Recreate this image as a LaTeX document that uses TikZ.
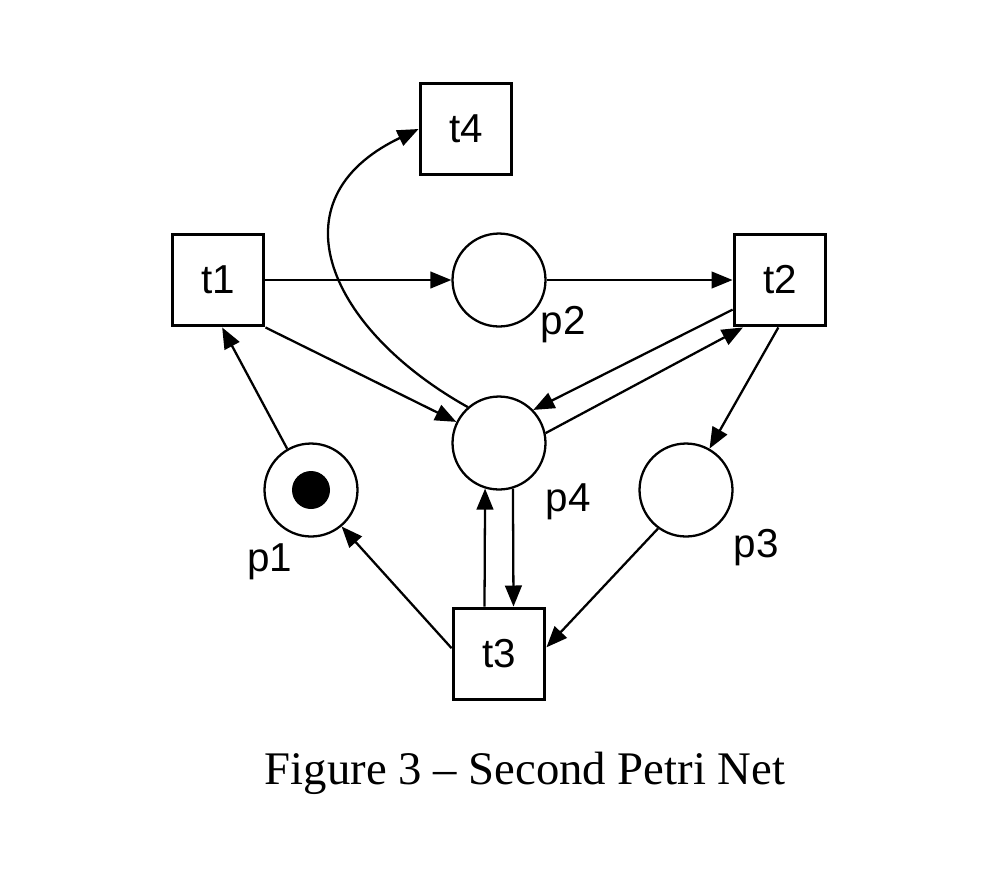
\documentclass[tikz,border=0pt]{standalone}
\usepackage{fontspec}
\setmainfont{Liberation Serif}
\newfontfamily\labelfont{Liberation Sans}
\usetikzlibrary{arrows.meta}
\begin{document}
\begin{tikzpicture}[x=0.02cm,y=-0.02cm,
  trans/.style={draw,line width=2.2pt,minimum size=1.82cm,inner sep=0pt,font=\labelfont\fontsize{23}{27}\selectfont},
  place/.style={draw,circle,line width=1.3pt,minimum size=1.86cm,inner sep=0pt},
  plabel/.style={font=\labelfont\fontsize{23}{27}\selectfont,inner sep=0pt},
  arc/.style={line width=1.3pt,-{Triangle[length=12pt,width=9.5pt]}}]
\useasboundingbox (0,0) rectangle (982,890);
\node[trans] (t4) at (466,129) {t4};
\node[trans] (t1) at (218,280) {t1};
\node[trans] (t2) at (780,280) {t2};
\node[trans] (t3) at (499,654) {t3};
\node[place] (p2) at (499,280) {};
\node[place] (p4) at (499,443) {};
\node[place] (p1) at (311,490) {};
\node[place] (p3) at (686,490) {};
\node[circle,fill=black,minimum size=0.76cm,inner sep=0pt] (tok) at (311,490) {};
\node[plabel] (lp2) at (563,325) {p2};
\node[plabel] (lp4) at (568,502) {p4};
\node[plabel] (lp1) at (270,562) {p1};
\node[plabel] (lp3) at (756,548) {p3};
\node[font=\fontsize{26.6}{32}\selectfont,inner sep=0pt] (cap) at (525,773) {Figure 3 -- Second Petri Net};
\draw[arc] (t1.east) -- (p2.west);
\draw[arc] (p2.east) -- (t2.west);
\draw[arc] (t1.south east) -- (p4);
\draw[arc] (t2.212) -- (p4.44);
\draw[arc] (p4.12) -- (t2.232);
\draw[arc] (t2.268) -- (p3);
\draw[arc] (p3.234) -- (t3.8);
\draw[arc] (t3.173) -- (p1.310);
\draw[arc] (p1.120) -- (t1.275);
\draw[arc] (p4.287) -- (t3.73);
\draw[arc] (t3.107) -- (p4.253);
\draw[arc] (p4.131) .. controls (330,330) and (270,200) .. (t4.west);
\end{tikzpicture}
\end{document}
